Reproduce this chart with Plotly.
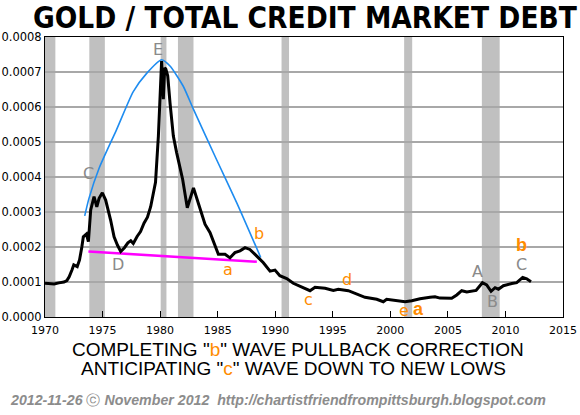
import plotly.graph_objects as go

# ---- data ----
ratio_years = [1970.0, 1970.4, 1970.8, 1971.2, 1971.65, 1971.9, 1972.1, 1972.35, 1972.5, 1972.8,
               1973.0, 1973.2, 1973.33, 1973.6, 1973.77, 1973.97, 1974.26, 1974.5, 1974.7, 1974.98,
               1975.27, 1975.7, 1976.0, 1976.3, 1976.58, 1976.9, 1977.2, 1977.45, 1977.67, 1978.0,
               1978.3, 1978.6, 1978.9, 1979.18, 1979.4, 1979.6, 1979.85, 1980.05, 1980.13, 1980.28,
               1980.4, 1980.5, 1980.66, 1980.86, 1981.15, 1981.44, 1981.73, 1981.96, 1982.36, 1982.9,
               1983.3, 1983.9, 1984.34, 1984.77, 1985.06, 1985.64, 1986.07, 1986.5, 1986.94, 1987.38,
               1987.8, 1988.4, 1988.97, 1989.55, 1989.98, 1990.4, 1991.0, 1991.57, 1992.0, 1992.44,
               1993.02, 1993.46, 1994.33, 1995.05, 1995.48, 1996.35, 1996.93, 1997.8, 1998.82, 1999.39,
               1999.68, 2000.55, 2001.28, 2001.86, 2002.58, 2003.45, 2003.88, 2004.32, 2005.33, 2005.77,
               2006.2, 2006.64, 2007.45, 2008.0, 2008.37, 2008.75, 2009.1, 2009.39, 2009.82, 2010.55,
               2010.98, 2011.5, 2011.85, 2012.22]
ratio_values = [0.0000963, 0.0000955, 0.0000943, 0.0000975, 0.000100, 0.000104, 0.000115, 0.000135, 0.000149, 0.000144,
                0.000163, 0.000200, 0.000229, 0.000237, 0.000215, 0.000306, 0.000344, 0.000315, 0.000339, 0.000355,
                0.000334, 0.000277, 0.000229, 0.000205, 0.000187, 0.000198, 0.000212, 0.000218, 0.000210, 0.000230,
                0.000244, 0.000268, 0.000285, 0.000315, 0.000350, 0.000385, 0.000517, 0.000689, 0.000731, 0.000622,
                0.000712, 0.000708, 0.000689, 0.000612, 0.000517, 0.000469, 0.000422, 0.000393, 0.000312, 0.000369,
                0.000327, 0.000265, 0.000241, 0.000203, 0.000179, 0.000179, 0.000169, 0.000184, 0.000189, 0.000198,
                0.000193, 0.000174, 0.000155, 0.000131, 0.000134, 0.000118, 0.000110, 0.0000963, 0.000090, 0.0000849,
                0.0000751, 0.0000849, 0.000082, 0.000076, 0.0000791, 0.0000751, 0.0000677, 0.0000563, 0.0000506, 0.0000437,
                0.0000506, 0.0000466, 0.0000437, 0.0000466, 0.000052, 0.0000563, 0.000058, 0.000054, 0.0000534, 0.0000629,
                0.0000751, 0.0000715, 0.000076, 0.000098, 0.0000914, 0.0000735, 0.0000837, 0.0000795, 0.0000894, 0.0000955,
                0.000098, 0.000113, 0.000109, 0.000101]

arc_years = [1973.45, 1973.82, 1974.7, 1976.2, 1977.67, 1978.83, 1980.13, 1980.86, 1982.0, 1982.9,
             1984.9, 1986.65, 1988.74]
arc_values = [0.000289, 0.000339, 0.000425, 0.000534, 0.000644, 0.000696, 0.000735, 0.000717, 0.00066, 0.000593,
              0.00045, 0.000327, 0.00017]

support_years = [1973.77, 1988.4]
support_values = [0.000187, 0.000158]

recession_start = [1970.0, 1973.85, 1980.05, 1981.55, 1990.55, 2001.2, 2007.95]
recession_end = [1970.9, 1975.2, 1980.55, 1982.9, 1991.2, 2001.9, 2009.5]

gray_labels = ["C", "E", "D", "A", "B", "C"]
gray_x = [1973.77, 1979.85, 1976.37, 2007.59, 2008.9, 2011.41]
gray_y = [0.000411, 0.000765, 0.000149, 0.000129, 0.0000437, 0.000149]

orange_labels = ["b", "a", "c", "d", "e"]
orange_x = [1988.6, 1985.93, 1992.9, 1996.2, 2001.19]
orange_y = [0.000239, 0.000136, 0.0000486, 0.000108, 0.000018]

bold_labels = ["a", "b"]
bold_x = [2002.43, 2011.36]
bold_y = [0.000022, 0.000206]

ORANGE = "#ff8c00"

fig = go.Figure()

fig.add_trace(go.Scatter(x=arc_years, y=arc_values, mode="lines",
                         line=dict(color="#1e8cf0", width=1.6, shape="spline", smoothing=0.6),
                         hoverinfo="skip"))
fig.add_trace(go.Scatter(x=support_years, y=support_values, mode="lines",
                         line=dict(color="#ff00ff", width=2.5), hoverinfo="skip"))
fig.add_trace(go.Scatter(x=ratio_years, y=ratio_values, mode="lines",
                         line=dict(color="black", width=3), hoverinfo="skip"))

for s, e in zip(recession_start, recession_end):
    fig.add_shape(type="rect", xref="x", yref="paper", x0=s, x1=e, y0=0, y1=1,
                  fillcolor="#c0c0c0", line=dict(width=0), layer="below")

for t, x, y in zip(gray_labels, gray_x, gray_y):
    fig.add_annotation(x=x, y=y, text=t, showarrow=False,
                       font=dict(family="DejaVu Sans", size=16, color="#8a8a8a"))
for t, x, y in zip(orange_labels, orange_x, orange_y):
    fig.add_annotation(x=x, y=y, text=t, showarrow=False,
                       font=dict(family="DejaVu Sans", size=16, color=ORANGE))
for t, x, y in zip(bold_labels, bold_x, bold_y):
    fig.add_annotation(x=x, y=y, text="<b>" + t + "</b>", showarrow=False,
                       font=dict(family="Liberation Sans", size=18, color=ORANGE))

# title
fig.add_annotation(xref="paper", yref="paper", x=0.502, y=1.068, text="<b>GOLD / TOTAL CREDIT MARKET DEBT</b>",
                   showarrow=False, xanchor="center", yanchor="middle",
                   font=dict(family="DejaVu Sans Condensed, Liberation Sans", size=29.5, color="black"))

# bottom captions
fig.add_annotation(xref="paper", yref="paper", x=0.4875, y=-0.1168,
                   text='COMPLETING "<span style="color:%s">b</span>" WAVE PULLBACK CORRECTION' % ORANGE,
                   showarrow=False, xanchor="center", yanchor="middle",
                   font=dict(family="Liberation Sans", size=19, color="black"))
fig.add_annotation(xref="paper", yref="paper", x=0.4797, y=-0.1857,
                   text='ANTICIPATING "<span style="color:%s">c</span>" WAVE DOWN TO NEW LOWS' % ORANGE,
                   showarrow=False, xanchor="center", yanchor="middle",
                   font=dict(family="Liberation Sans", size=19, color="black"))

# footer
fig.add_annotation(xref="paper", yref="paper", x=-0.0714, y=-0.2964,
                   text="<b><i>2012-11-26 </i></b>ⓒ<b><i> November 2012\u00a0\u00a0http://chartistfriendfrompittsburgh.blogspot.com</i></b>",
                   showarrow=False, xanchor="left", yanchor="middle",
                   font=dict(family="Liberation Sans", size=14.2, color="#8c8c8c"))

fig.update_layout(
    width=580, height=415,
    margin=dict(l=45, r=17, t=37, b=98, autoexpand=False),
    paper_bgcolor="white", plot_bgcolor="white",
    showlegend=False,
    xaxis=dict(range=[1970, 2015], dtick=5, tick0=1970, showgrid=False, zeroline=False,
               showline=True, mirror=True, linecolor="black", linewidth=1,
               ticks="inside", ticklen=6, tickcolor="black", automargin=False, ticklabelstandoff=3,
               tickfont=dict(family="DejaVu Sans", size=11, color="black"), fixedrange=True),
    yaxis=dict(range=[0, 0.0008], dtick=0.0001, tick0=0, tickformat=".4f",
               showgrid=True, gridcolor="#a8a8a8", gridwidth=1.5, zeroline=False,
               showline=True, mirror=True, linecolor="black", linewidth=1, ticks="", automargin=False,
               tickfont=dict(family="DejaVu Sans", size=11.5, color="black"), fixedrange=True),
)

fig.write_html("out.html", config={"displayModeBar": False},
               post_script="document.body.style.margin='0';document.body.style.overflow='hidden';")
